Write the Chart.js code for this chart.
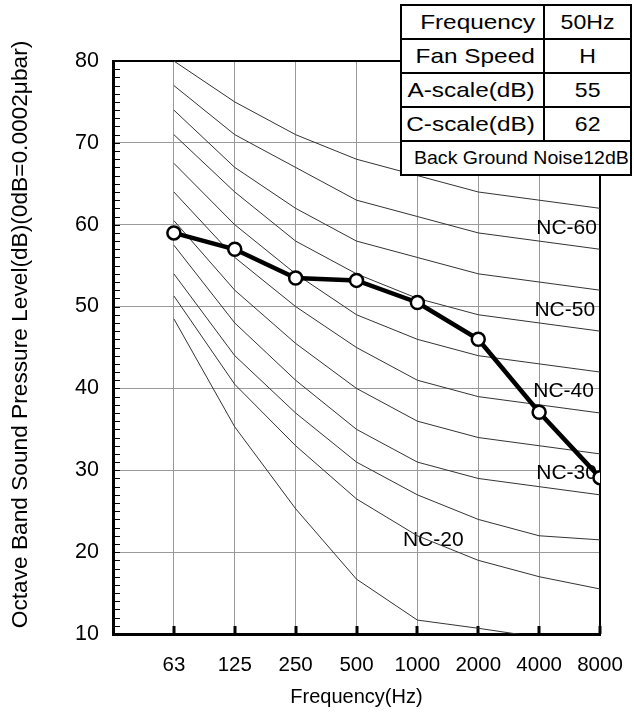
<!DOCTYPE html>
<html>
<head>
<meta charset="utf-8">
<script src="https://cdn.jsdelivr.net/npm/chart.js@4.4.1/dist/chart.umd.min.js"></script>
<style>
  body{margin:0;background:#fff;}
  #wrap{position:relative;width:634px;height:715px;}
  #nc{position:absolute;left:0;top:0;}
  #info{position:absolute;left:400px;top:4px;width:232px;border-collapse:collapse;background:#fff;
        font-family:"Liberation Sans",Arial,Helvetica,sans-serif;font-size:21px;color:#000;}
  #info td{border:2px solid #000;padding:0 6px;height:32px;line-height:30px;white-space:nowrap;}
  #info td span{display:inline-block;transform:scaleX(1.16);}
  #info td.k{text-align:right;width:127px;padding-right:8px;}
  #info td.k span{transform-origin:right center;}
  #info td.v{text-align:center;}
  #info td.v span{transform:scaleX(1.1);transform-origin:center center;}
  #info td.note{font-size:18.5px;text-align:left;padding-left:12px;}
  #info td.note span{transform:scaleX(1.055);transform-origin:left center;}
</style>
</head>
<body>
<div id="wrap">
  <canvas id="nc" width="634" height="715"></canvas>
  <table id="info"><tbody id="infoBody"></tbody></table>
</div>
<script>
/* DATOS */
const freqs = ['63','125','250','500','1000','2000','4000','8000'];
const measured = [59, 57, 53.5, 53.2, 50.5, 46, 37.1, 29.1];

/* curvas NC */
const nc65 = [80, 75, 71, 68, 66, 64, 63, 62];
const nc60 = [77, 71, 67, 63, 61, 59, 58, 57];
const nc55 = [74, 67, 62, 58, 56, 54, 53, 52];
const nc50 = [71, 64, 58, 54, 51, 49, 48, 47];
const nc45 = [67.5, 60, 54, 49, 46, 44, 43, 42];
const nc40 = [64, 56, 50, 45, 41, 39, 38, 37];
const nc35 = [60.5, 52, 45.5, 40, 36, 34, 33, 32];
const nc30 = [57.5, 48, 41, 35, 31, 29, 28, 27];
const nc25 = [54, 44, 37, 31, 27, 24, 22, 21.5];
const nc20 = [51.3, 40.5, 33, 26.5, 22, 19, 17, 15.5];
const nc15 = [48.5, 35.3, 25.3, 16.7, 11.7, 10.7, 9.6, 9.0];
const ncCurves = [nc65, nc60, nc55, nc50, nc45, nc40, nc35, nc30, nc25, nc20, nc15];

const ncLabels = ['NC-60','NC-50','NC-40','NC-30','NC-20'];
const ncLabelX = [6.95, 6.92, 6.9, 6.95, 4.76];
const ncLabelY = [59.6, 49.6, 39.6, 29.7, 21.5];

const yTitle = 'Octave Band Sound Pressure Level(dB)(0dB=0.0002μbar)';
const xTitle = 'Frequency(Hz)';

const infoRows = [['Frequency','50Hz'],['Fan Speed','H'],['A-scale(dB)','55'],['C-scale(dB)','62']];
const infoNote = 'Back Ground Noise12dB';

/* TABLA */
function loadTable(){
  const tb = document.getElementById('infoBody');
  let html = '';
  infoRows.forEach(r => { html += `<tr><td class="k"><span>${r[0]}</span></td><td class="v"><span>${r[1]}</span></td></tr>`; });
  html += `<tr><td class="note" colspan="2"><span>${infoNote}</span></td></tr>`;
  tb.innerHTML = html;
}
loadTable();

const FONT = '"Liberation Sans", Arial, Helvetica, sans-serif';
const pts = arr => arr.map((v,i) => ({x:i, y:v}));

/* marco, ticks menores, etiquetas NC y titulo eje y */
const frame = {
  id:'frame',
  beforeDatasetsDraw(chart){
    const {ctx, chartArea:a, scales:{x,y}} = chart;
    ctx.save();
    ctx.strokeStyle = '#000';
    ctx.lineWidth = 2;
    ctx.beginPath();
    ctx.moveTo(a.left, a.top); ctx.lineTo(a.right, a.top); ctx.lineTo(a.right, a.bottom);
    ctx.stroke();
    // ticks menores eje y
    ctx.lineWidth = 1;
    ctx.beginPath();
    for (let v = y.min + 1; v < y.max; v++){
      const py = Math.round(y.getPixelForValue(v)) + 0.5;
      ctx.moveTo(a.left, py); ctx.lineTo(a.left + 7, py);
    }
    ctx.stroke();
    // ticks eje x
    ctx.lineWidth = 3;
    ctx.beginPath();
    freqs.forEach((f,i) => {
      const px = Math.round(x.getPixelForValue(i));
      ctx.moveTo(px, a.bottom); ctx.lineTo(px, a.bottom - 8);
    });
    ctx.stroke();
    // etiquetas NC
    ctx.fillStyle = '#000';
    ctx.font = '21px ' + FONT;
    ctx.textAlign = 'right';
    ctx.textBaseline = 'middle';
    ncLabels.forEach((t,i) => {
      ctx.fillText(t, x.getPixelForValue(ncLabelX[i]), y.getPixelForValue(ncLabelY[i]));
    });
    // titulo eje y
    ctx.translate(21, (a.top + a.bottom) / 2 - 13);
    ctx.rotate(-Math.PI / 2);
    ctx.textAlign = 'center';
    ctx.font = '22.7px ' + FONT;
    ctx.fillText(yTitle, 0, 0);
    ctx.restore();
  }
};

const datasets = [{
  label:'Measured',
  data: pts(measured),
  borderColor:'#000',
  borderWidth:4.5,
  pointRadius:6.5,
  pointBorderWidth:2.5,
  pointBackgroundColor:'#fff',
  pointBorderColor:'#000',
  tension:0,
  order:0
}];
ncCurves.forEach((c,i) => datasets.push({
  label:'NC' + i,
  data: pts(c),
  borderColor:'#333',
  borderWidth:1,
  pointRadius:0,
  tension:0,
  order:1
}));

new Chart(document.getElementById('nc'), {
  type:'line',
  data:{datasets},
  plugins:[frame],
  options:{
    responsive:false,
    animation:false,
    layout:{padding:{top:61, right:34, left:0, bottom:0}},
    plugins:{legend:{display:false}, tooltip:{enabled:false}},
    scales:{
      x:{
        type:'linear', min:-1, max:7,
        ticks:{stepSize:1, autoSkip:false, maxRotation:0, padding:19, color:'#000',
               font:{size:20.5, family:FONT}, callback:v => freqs[v] ?? ''},
        grid:{color:'#9a9a9a', lineWidth:1, drawTicks:false},
        border:{color:'#000', width:3},
        title:{display:true, text:xTitle, color:'#000', font:{size:20, family:FONT}, padding:{top:0, bottom:6}},
        afterFit(s){ s.height = 81; s.paddingLeft = 0; s.paddingRight = 0; }
      },
      y:{
        min:10, max:80,
        ticks:{stepSize:10, padding:14, color:'#000', font:{size:21.5, family:FONT}},
        grid:{color:'#9a9a9a', lineWidth:1, drawTicks:false},
        border:{color:'#000', width:3},
        afterFit(s){ s.width = 113; }
      }
    }
  }
});
</script>
</body>
</html>
